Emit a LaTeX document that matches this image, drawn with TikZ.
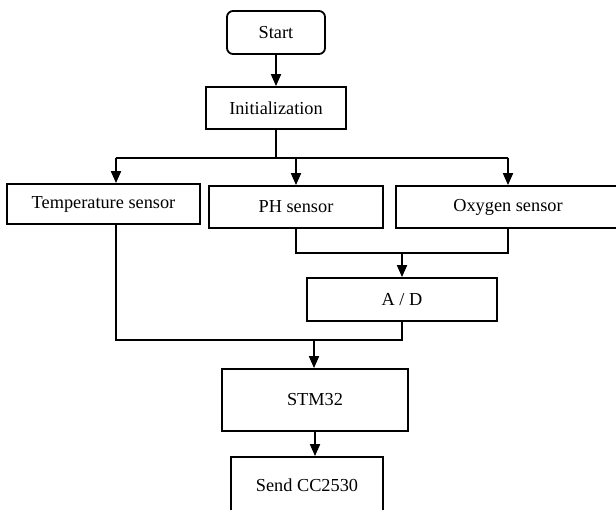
\documentclass[tikz,border=0pt]{standalone}
\usepackage{fontspec}
\setmainfont{Liberation Serif}
\usetikzlibrary{arrows.meta}
\begin{document}
\begin{tikzpicture}[x=1pt,y=-1pt,
  box/.style={draw,line width=1.8pt,inner sep=0pt,font=\fontsize{18.3}{22}\selectfont},
  ln/.style={line width=1.8pt},
  arr/.style={ln,-{Triangle[width=10pt,length=12pt]}}]
\useasboundingbox (0,0) rectangle (616,509);
\clip (0,0) rectangle (616,509);
\node[box,minimum width=98pt,minimum height=43pt,rounded corners=6pt] (start) at (276,32.5) {Start};
\node[box,minimum width=140pt,minimum height=42pt] (init) at (276,108) {Initialization};
\node[box,minimum width=193pt,minimum height=40pt] (temp) at (103.5,204) {Temperature sensor};
\node[box,minimum width=174pt,minimum height=42pt] (ph) at (296,207) {PH sensor};
\node[box,minimum width=224pt,minimum height=42pt] (oxy) at (508,207) {Oxygen sensor};
\node[box,minimum width=190pt,minimum height=43pt] (ad) at (402,299.5) {A / D};
\node[box,minimum width=186pt,minimum height=62pt] (stm) at (315,400) {STM32};
\node[box,minimum width=152pt,minimum height=56pt] (send) at (307,485) {Send CC2530};
\coordinate (busL) at (116,158);
\coordinate (busR) at (508,158);
\coordinate (j1) at (402,253);
\coordinate (j2) at (314,340);
\draw[arr] (start.south) -- (start.south |- init.north);
\draw[ln] (init.south) -- (init.south |- busL);
\draw[ln] (busL) -- (busR);
\draw[arr] (busL) -- (busL |- temp.north);
\draw[arr] (ph.north |- busL) -- (ph.north);
\draw[arr] (oxy.north |- busL) -- (oxy.north);
\draw[ln] (ph.south) -- (ph.south |- j1) -- (oxy.south |- j1) -- (oxy.south);
\draw[arr] (j1) -- (j1 |- ad.north);
\draw[ln] (busL |- temp.south) -- (busL |- j2) -- (ad.south |- j2) -- (ad.south);
\draw[arr] (j2) -- (j2 |- stm.north);
\draw[arr] (stm.south) -- (stm.south |- send.north);
\end{tikzpicture}
\end{document}
